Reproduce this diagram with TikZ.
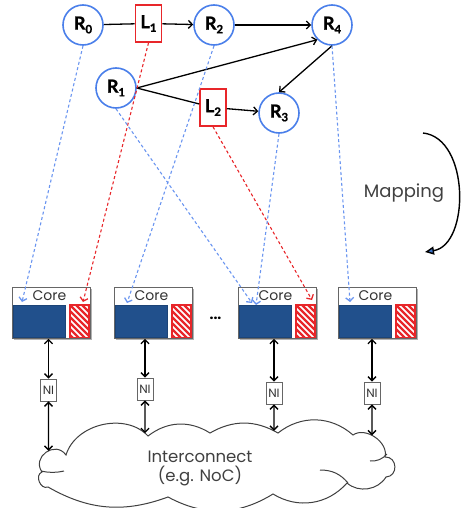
\documentclass[tikz,border=0pt]{standalone}
\usepackage{fontspec}
\setmainfont{Poppins}
\newfontfamily\lblfont{Lato}[BoldFeatures={FakeBold=1.2}]
\usetikzlibrary{arrows.meta,intersections}
\definecolor{rblue}{HTML}{4A7FEA}
\definecolor{dblue}{HTML}{6A95F0}
\definecolor{rred}{HTML}{E8262A}
\definecolor{navy}{HTML}{21508C}
\definecolor{mapblue}{HTML}{3D74C9}
\newcommand\lsub[1]{\raisebox{-0.4ex}{\fontsize{11.5}{11.5}\selectfont #1}}
\tikzset{
  router/.style={circle, draw=rblue, line width=1.6pt, minimum size=40pt, inner sep=0pt, fill=white,
    font=\lblfont\bfseries\fontsize{18}{18}\selectfont},
  linkbox/.style={rectangle, draw=rred, line width=1.6pt, minimum width=26pt, minimum height=37pt,
    inner sep=0pt, fill=white, font=\lblfont\bfseries\fontsize{18}{18}\selectfont},
  edge/.style={line width=1.3pt, draw=black},
  arr/.style={edge, -{Straight Barb[length=4pt,width=8pt,line width=1.3pt]}},
  mapb/.style={draw=dblue, line width=1.1pt, dash pattern=on 3pt off 2.5pt,
    -{Straight Barb[length=3.5pt,width=8pt,line width=1.3pt]}},
  mapr/.style={mapb, draw=rred},
  corebox/.style={rectangle, draw=black!60, line width=0.9pt, fill=white, minimum width=78pt,
    minimum height=51pt, inner sep=0pt},
  coretext/.style={font=\fontsize{14}{14}\selectfont, text=black!80, anchor=base, inner sep=0pt},
  nibox/.style={rectangle, draw=black!60, line width=0.9pt, fill=white, minimum width=16pt,
    minimum height=22pt, inner sep=0pt, font=\fontsize{12}{12}\selectfont, text=black!80},
  dbl/.style={line width=1.3pt, {Straight Barb[length=4pt,width=8pt,line width=1.3pt]}-{Straight Barb[length=4pt,width=8pt,line width=1.3pt]}},
  cloudline/.style={draw=black!75, line width=1pt},
  bigtext/.style={font=\fontsize{16.5}{16.5}\selectfont, text=black!75, anchor=base, inner sep=0pt},
}
\newcommand\mkcore[2]{%
  \fill[black!30] (#2+1.6,288.6) rectangle (#2+79.6,339.6);
  \node[corebox, anchor=north west] (#1) at (#2,287) {};
  \node[coretext] (#1t) at (#2+37.5,300) {Core};
  \draw[fill=navy, draw=navy!85!black, line width=0.6pt] (#2+1,305) rectangle (#2+53,337.5);
  \begin{scope}
    \clip (#2+58,305) rectangle (#2+77,337.5);
    \foreach \s in {-36,-30,...,24} \draw[rred, line width=2.2pt] (#2+58+\s,305) -- ++(33,33);
  \end{scope}
  \draw[rred, line width=1.2pt] (#2+58,305) rectangle (#2+77,337.5);
}
\begin{document}
\begin{tikzpicture}[x=1pt,y=-1pt]
\useasboundingbox (0,0) rectangle (460,508);
% routers and links
\node[router] (R0) at (83,25) {R\lsub{0}};
\node[router] (R2) at (214,25) {R\lsub{2}};
\node[router] (R4) at (332,25) {R\lsub{4}};
\node[router] (R1) at (116,88) {R\lsub{1}};
\node[router] (R3) at (279,113) {R\lsub{3}};
\node[linkbox] (L1) at (148.5,23.5) {L\lsub{1}};
\node[linkbox] (L2) at (213,107.5) {L\lsub{2}};
% cores
\mkcore{C1}{12}
\mkcore{C2}{114}
\mkcore{C3}{238}
\mkcore{C4}{338}
\node[font=\bfseries\fontsize{14}{14}\selectfont, inner sep=0pt] (dots) at (215.5,318) {...};
% NIs
\node[nibox] (N1) at (48.5,390) {NI};
\node[nibox] (N2) at (145,389) {NI};
\node[nibox] (N3) at (274,393) {NI};
\node[nibox] (N4) at (372,393) {NI};
% cloud
\draw[cloudline, fill=white, name path=cloudp]
  (42,472) to[bend left=90, looseness=1.6] (66,455)
  to[bend left=60] (148,436)
  to[bend left=35] (210,433)
  to[bend left=30] (278,433)
  to[bend left=40] (353,435)
  to[bend left=70] (385,457)
  to[bend left=90, looseness=1.6] (386,477)
  to[bend left=50] (347,483)
  to[bend left=40] (273,494)
  to[bend left=30] (168,497)
  to[bend left=25] (48,487)
  to[bend left=90, looseness=1.3] cycle;
\draw[cloudline] (41,471) to[bend right=12] (64,471);
\draw[cloudline] (370,461) to[bend right=25] (387,454);
\draw[cloudline] (320,470) to[bend left=25] (348,483);
\node[bigtext] (ic1) at (200,462) {Interconnect};
\node[bigtext] (ic2) at (200,481) {(e.g. NoC)};
% graph edges
\draw[edge] (R0) -- (L1);
\draw[arr] (L1) -- (R2);
\draw[arr] (R2) -- (R4);
\draw[arr] (R1.east) -- (R4.south west);
\draw[edge] (R1.east) -- (L2);
\draw[arr] (L2) -- (R3);
\draw[arr] (R4.south) -- (R3.north);
% mapping dashes
\coordinate (t0) at (22,302);
\coordinate (t1) at (83,302);
\coordinate (t2) at (127,303);
\coordinate (t3) at (252,303);
\coordinate (t4) at (312,300);
\coordinate (t5) at (256,305);
\coordinate (t6) at (350,302);
\draw[mapb] (R0.south) -- (t0);
\draw[mapr] (L1.south) -- (t1);
\draw[mapb] (R2.south) -- (t2);
\draw[mapb] (R1.south) -- (t3);
\draw[mapr] (L2.south) -- (t4);
\draw[mapb] (R3.south) -- (t5);
\draw[mapb] (R4.south) -- (t6);
% core to NI
\draw[dbl] (C1.south -| N1) -- (N1.north);
\draw[dbl] (C2.south -| N2) -- (N2.north);
\draw[dbl] (C3.south -| N3) -- (N3.north);
\draw[dbl] (C4.south -| N4) -- (N4.north);
% NI to cloud
\foreach \i in {1,2,3,4} {
  \path[name path=v\i] (N\i.south) -- ++(0,60);
  \draw[dbl, name intersections={of=cloudp and v\i, sort by=v\i, by={e\i}}] (N\i.south) -- (e\i);
}
% mapping arrow
\coordinate (m1) at (423,133);
\coordinate (m2) at (425,252);
\draw[line width=1.4pt, -{Triangle[length=9pt,width=8pt,fill=mapblue]}] (m1) .. controls (470,138) and (470,245) .. (m2);
\node[bigtext, font=\fontsize{18}{18}\selectfont] (map) at (404,197) {Mapping};
\end{tikzpicture}
\end{document}
